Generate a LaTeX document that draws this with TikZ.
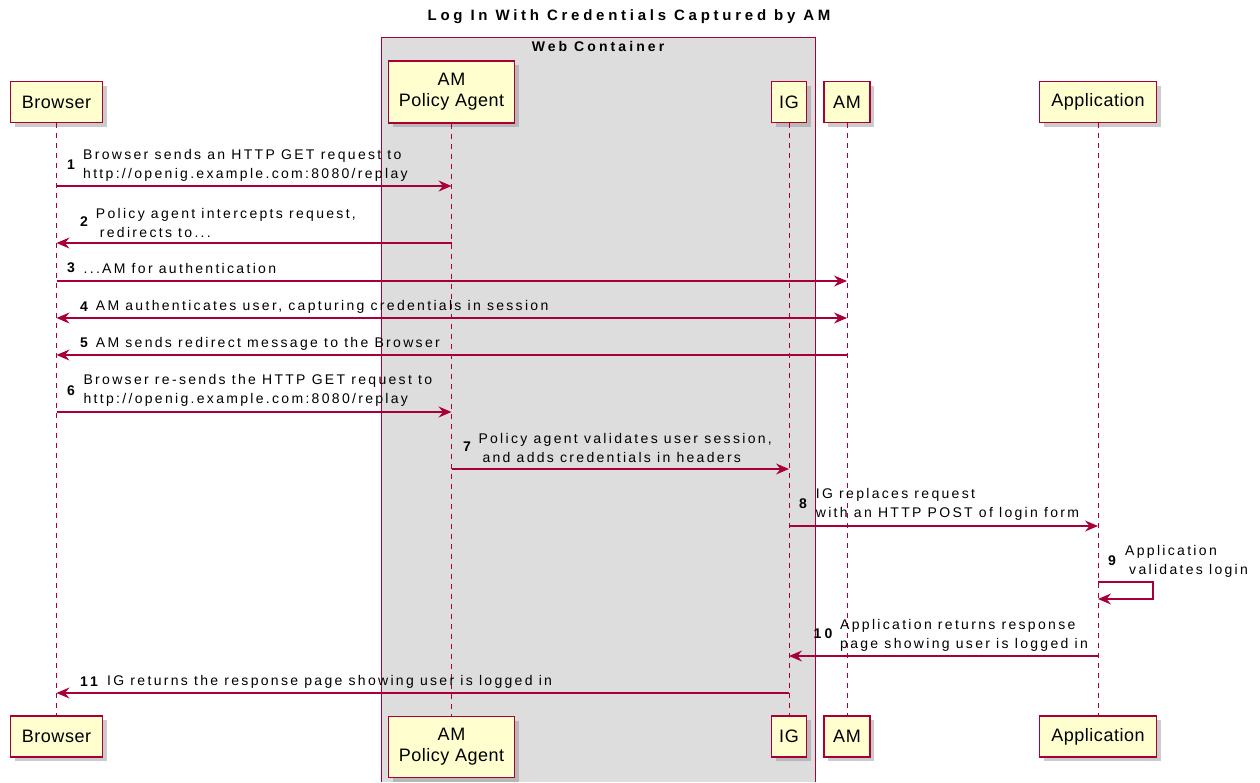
\documentclass[tikz,border=0pt]{standalone}
\usepackage{fontspec}
\setmainfont{Liberation Sans}
\newfontfamily\msgfont[LetterSpace=16.5]{Liberation Sans}
\newfontfamily\partfont[LetterSpace=3]{Liberation Sans}
\newfontfamily\headfont[LetterSpace=22]{Liberation Sans}
\newfontfamily\titlefont[LetterSpace=25]{Liberation Sans}
\usetikzlibrary{arrows.meta, shadows}
\definecolor{umlred}{HTML}{A80036}
\definecolor{umlbox}{HTML}{FEFECE}
\definecolor{umlgroup}{HTML}{DDDDDD}

\begin{document}
\begin{tikzpicture}[x=1pt, y=-1pt,
    part/.style={draw=umlred, fill=umlbox, line width=1.5pt, align=center,
      inner sep=0pt, minimum height=41pt,
      font=\partfont\fontsize{18}{21}\selectfont,
      drop shadow={shadow xshift=4pt, shadow yshift=-4pt, fill=black!45, opacity=0.45}},
    life/.style={umlred, line width=1pt, dash pattern=on 5pt off 5pt},
    tip/.tip={Stealth[length=13pt, width=11pt, inset=4.5pt]},
    msg/.style={umlred, line width=1.2pt, -tip},
    num/.style={inner sep=0pt, font=\headfont\bfseries\fontsize{14}{16}\selectfont},
    txt/.style={inner sep=0pt, anchor=west, align=left, font=\msgfont\fontsize{14}{19}\selectfont},
    head/.style={inner sep=0pt, font=\headfont\bfseries\fontsize{14}{16}\selectfont}]
  \useasboundingbox (0,0) rectangle (1260,782);

  % web container
  \fill[umlgroup] (381,37) rectangle (815,782);
  \draw[umlred, line width=1pt] (381,782) -- (381,37) -- (815,37) -- (815,782);
  \node[inner sep=0pt, font=\titlefont\bfseries\fontsize{15}{17}\selectfont] (title) at (629,17) {Log In With Credentials Captured by AM};
  \node[head] (web) at (598,46) {Web Container};

  % participants
  \foreach \n/\x/\w/\t in {br/56.5/92/Browser, ig/789/35/IG, am/847/46/AM, app/1098/117/Application} {
    \node[part, minimum width=\w pt] (\n-top) at (\x,102) {\t};
    \node[part, minimum width=\w pt] (\n-bot) at (\x,736.5) {\t};
  }
  \node[part, minimum width=126pt, minimum height=62pt] (pa-top) at (451.5,92) {AM\\Policy Agent};
  \node[part, minimum width=126pt, minimum height=61pt] (pa-bot) at (451.5,747) {AM\\Policy Agent};

  \foreach \n in {br,pa,ig,am,app}
    \draw[life] (\n-top.south) -- (\n-bot.north);

  % messages
  \node[num] (n1) at (71,165) {1};
  \node[txt] (t1) at (83,165.5) {Browser sends an HTTP GET request to\\http://openig.example.com:8080/replay};
  \draw[msg] (br-top.south |- 0,186) -- (pa-top.south |- 0,186);

  \node[num] (n2) at (84,222) {2};
  \node[txt] (t2) at (95.7,223) {Policy agent intercepts request,\\\hspace*{4pt}redirects to...};
  \draw[msg] (pa-top.south |- 0,243) -- (br-top.south |- 0,243);

  \node[num] (n3) at (71,268) {3};
  \node[txt] (t3) at (83.4,268.5) {...AM for authentication};
  \draw[msg] (br-top.south |- 0,281) -- (am-top.south |- 0,281);

  \node[num] (n4) at (84,307) {4};
  \node[txt] (t4) at (95.7,307) {AM authenticates user, capturing credentials in session};
  \draw[msg, tip-tip] (br-top.south |- 0,318) -- (am-top.south |- 0,318);

  \node[num] (n5) at (84,343) {5};
  \node[txt] (t5) at (95.7,343.5) {AM sends redirect message to the Browser};
  \draw[msg] (am-top.south |- 0,355) -- (br-top.south |- 0,355);

  \node[num] (n6) at (71,391) {6};
  \node[txt] (t6) at (83.4,390.5) {Browser re-sends the HTTP GET request to\\http://openig.example.com:8080/replay};
  \draw[msg] (br-top.south |- 0,412) -- (pa-top.south |- 0,412);

  \node[num] (n7) at (467,447) {7};
  \node[txt] (t7) at (478.3,448) {Policy agent validates user session,\\\hspace*{4pt}and adds credentials in headers};
  \draw[msg] (pa-top.south |- 0,469) -- (ig-top.south |- 0,469);

  \node[num] (n8) at (803,504) {8};
  \node[txt] (t8) at (815.7,504.5) {IG replaces request\\with an HTTP POST of login form};
  \draw[msg] (ig-top.south |- 0,526) -- (app-top.south |- 0,526);

  \node[num] (n9) at (1112,561) {9};
  \node[txt] (t9) at (1125,561) {Application\\\hspace*{4pt}validates login};
  \draw[msg] (app-top.south |- 0,582) -- ++(55,0) -- ++(0,17) -- (app-top.south |- 0,599);

  \node[num] (n10) at (823,634) {10};
  \node[txt] (t10) at (840,635) {Application returns response\\page showing user is logged in};
  \draw[msg] (app-top.south |- 0,656) -- (ig-top.south |- 0,656);

  \node[num] (n11) at (89,682) {11};
  \node[txt] (t11) at (107,682) {IG returns the response page showing user is logged in};
  \draw[msg] (ig-top.south |- 0,693) -- (br-top.south |- 0,693);
\end{tikzpicture}
\end{document}
